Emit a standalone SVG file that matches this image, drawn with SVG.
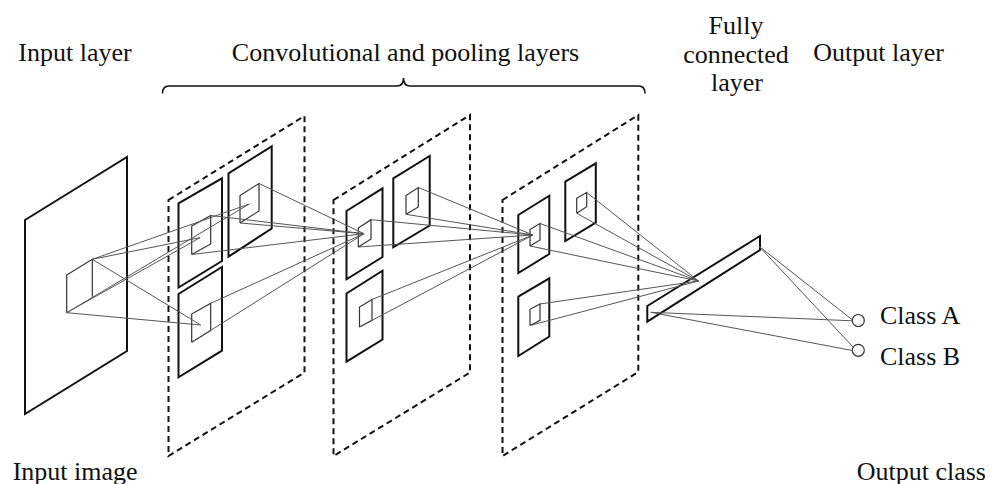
<svg xmlns="http://www.w3.org/2000/svg" width="1000" height="484" viewBox="0 0 1000 484">
<style>
text{font-family:"Liberation Serif","Times New Roman",serif;font-size:26px;fill:#111}
.plane{fill:none;stroke:#111;stroke-width:2;stroke-linejoin:miter}
.panel{fill:none;stroke:#111;stroke-width:2;stroke-dasharray:6 4}
.rf{fill:none;stroke:#333;stroke-width:1.2}
.con line{stroke:#555;stroke-width:1}
.node{fill:#fff;stroke:#333;stroke-width:1.2}
.brace{fill:none;stroke:#111;stroke-width:1.6}
</style>
<rect width="1000" height="484" fill="#fff"/>

<g id="labels">
<text x="18.3" y="60.5">Input layer</text>
<text x="405.5" y="60.5" text-anchor="middle">Convolutional and pooling layers</text>
<text x="736" y="33.5" text-anchor="middle">Fully</text>
<text x="736" y="62.5" text-anchor="middle">connected</text>
<text x="737" y="91" text-anchor="middle">layer</text>
<text x="813.3" y="60.5">Output layer</text>
<text x="12.7" y="480">Input image</text>
<text x="856.7" y="480">Output class</text>
</g>

<g id="brace">
<path class="brace" d="M162.5,93.5 Q162.5,86 169,86 L397,86 Q403.5,86 403.5,78 Q403.5,86 410,86 L638.5,86 Q645,86 645,93.5"/>
</g>

<g id="input-layer">
<polygon class="plane" points="25,220 127,157 127,351 25,414"/>
<polyline class="rf" points="66.7,312.7 66.7,275 92.3,259.3 92.3,296.7"/>
</g>

<g id="panel-1">
<polygon class="panel" points="168.5,200 304.5,116 304.5,372.5 168.5,456"/>
<g id="map-A">
<polygon class="plane" points="178.5,203.3 222,178.3 222,261 178.5,287.5"/>
<polyline class="rf" points="191.7,254.5 191.7,226 210.7,215.5 210.7,244 191.7,254.5"/>
</g>
<g id="map-B">
<polygon class="plane" points="228.5,173.3 271.7,146.3 271.7,228.5 228.5,256.7"/>
<polyline class="rf" points="240,223 240,195.5 259,183.5 259,211 240,223"/>
</g>
<g id="map-C">
<polygon class="plane" points="178.5,294 222,267 222,350.7 178.5,377.3"/>
<polyline class="rf" points="191.7,342.3 191.7,314 210.7,303.3 210.7,330.5 191.7,342.3"/>
</g>
</g>

<g id="panel-2">
<polygon class="panel" points="333.5,200 470,115 470,372.5 333.5,456"/>
<g id="map-D">
<polygon class="plane" points="346.5,211 382.5,188.3 382.5,257 346.5,279.3"/>
<polyline class="rf" points="358.3,247 358.3,228 371,219.7 371,239 358.3,247"/>
</g>
<g id="map-E">
<polygon class="plane" points="393.3,178.3 429.7,156 429.7,225.5 393.3,247.3"/>
<polyline class="rf" points="406,214.3 406,195.5 418.3,187.5 418.3,207 406,214.3"/>
</g>
<g id="map-F">
<polygon class="plane" points="346.5,293.5 382.5,270.7 382.5,339.5 346.5,361.7"/>
<polyline class="rf" points="359.5,327 359.5,307 372,299.5 372,320.3 359.5,327"/>
</g>
</g>

<g id="panel-3">
<polygon class="panel" points="502.5,200 638.3,115 638.3,372 502.5,456"/>
<g id="map-G">
<polygon class="plane" points="518.3,215 549.3,195.7 549.3,254 518.3,273"/>
<polyline class="rf" points="530,246 530,229.5 540,223.5 540,240 530,246"/>
</g>
<g id="map-H">
<polygon class="plane" points="565.3,181.7 595.8,163.3 595.8,222.7 565.3,241"/>
<polyline class="rf" points="576.7,213.3 576.7,198.3 586.7,192.5 586.7,206.7 576.7,213.3"/>
</g>
<g id="map-I">
<polygon class="plane" points="518.3,296.7 549.3,278.3 549.3,336.5 518.3,356"/>
<polyline class="rf" points="530,325.5 530,309.3 540,304 540,320.3 530,325.5"/>
</g>
</g>

<g id="fully-connected">
<polygon class="plane" points="647.3,306 760,236 760,250 647.3,321.7"/>
</g>

<g id="class-A">
<circle class="node" cx="858.3" cy="320.5" r="6"/>
<text x="880" y="324">Class A</text>
</g>
<g id="class-B">
<circle class="node" cx="858.3" cy="350.3" r="6"/>
<text x="880" y="365">Class B</text>
</g>

<g id="connectors" class="con">
<!-- input receptive field to panel 1 -->
<line x1="92.3" y1="259.3" x2="200" y2="237.7"/>
<line x1="92.3" y1="259.3" x2="249.3" y2="204"/>
<line x1="92.3" y1="259.3" x2="200.7" y2="325"/>
<line x1="66.7" y1="312.7" x2="200" y2="237.7"/>
<line x1="66.7" y1="312.7" x2="249.3" y2="204"/>
<line x1="66.7" y1="312.7" x2="200.7" y2="325"/>
<!-- panel 1 to panel 2 -->
<line x1="210.7" y1="215.5" x2="364" y2="233.7"/>
<line x1="191.7" y1="254.5" x2="364" y2="233.7"/>
<line x1="259" y1="183.5" x2="364" y2="233.7"/>
<line x1="240" y1="223" x2="364" y2="233.7"/>
<line x1="210.7" y1="303.3" x2="364" y2="233.7"/>
<line x1="191.7" y1="342.3" x2="364" y2="233.7"/>
<!-- panel 2 to panel 3 -->
<line x1="371" y1="219.7" x2="533" y2="235"/>
<line x1="358.3" y1="247" x2="533" y2="235"/>
<line x1="418.3" y1="187.5" x2="533" y2="235"/>
<line x1="406" y1="214.3" x2="533" y2="235"/>
<line x1="372" y1="299.5" x2="533" y2="235"/>
<line x1="359.5" y1="327" x2="533" y2="235"/>
<!-- panel 3 to fully connected -->
<line x1="540" y1="223.5" x2="698.5" y2="281"/>
<line x1="530" y1="246" x2="698.5" y2="281"/>
<line x1="586.7" y1="192.5" x2="698.5" y2="281"/>
<line x1="576.7" y1="213.3" x2="698.5" y2="281"/>
<line x1="540" y1="304" x2="698.5" y2="281"/>
<line x1="530" y1="325.5" x2="698.5" y2="281"/>
<!-- fully connected to output -->
<line x1="759.3" y1="246.5" x2="852.5" y2="320"/>
<line x1="759.3" y1="246.5" x2="853.3" y2="347.3"/>
<line x1="650.7" y1="312.3" x2="852.3" y2="320.8"/>
<line x1="650.7" y1="312.3" x2="852.4" y2="350.5"/>
</g>
</svg>
